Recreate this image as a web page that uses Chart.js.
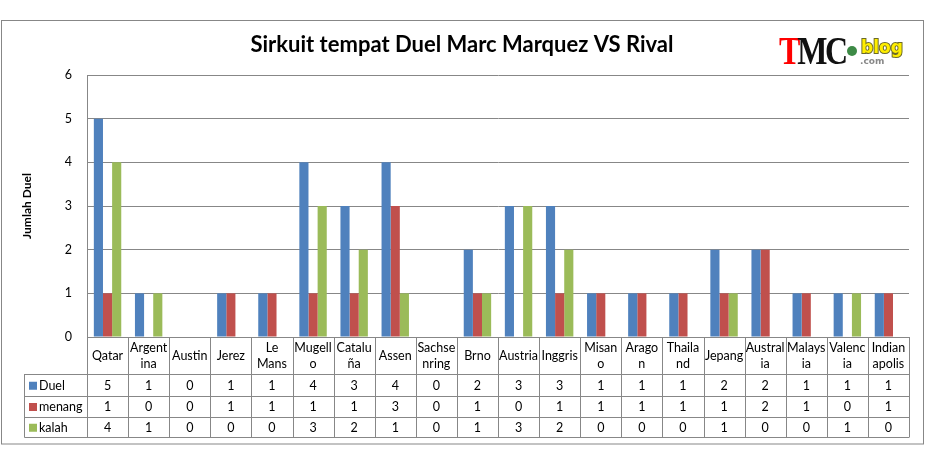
<!DOCTYPE html>
<html>
<head>
<meta charset="utf-8">
<script src="https://cdn.jsdelivr.net/npm/chart.js@4/dist/chart.umd.min.js"></script>
<style>
  body { margin: 0; background: #fff; }
  #wrap { width: 926px; height: 465px; }
</style>
</head>
<body>
<div id="wrap"><canvas id="duelChart" width="926" height="465"></canvas></div>
<script>
// wrapped the same way as the data table in the original
const circuits = [['Qatar'], ['Argent', 'ina'], ['Austin'], ['Jerez'], ['Le', 'Mans'],
    ['Mugell', 'o'], ['Catalu', 'ña'], ['Assen'], ['Sachse', 'nring'], ['Brno'],
    ['Austria'], ['Inggris'], ['Misan', 'o'], ['Arago', 'n'], ['Thaila', 'nd'],
    ['Jepang'], ['Austral', 'ia'], ['Malays', 'ia'], ['Valenc', 'ia'], ['Indian', 'apolis']];
const duel   = [5, 1, 0, 1, 1, 4, 3, 4, 0, 2, 3, 3, 1, 1, 1, 2, 2, 1, 1, 1];
const menang = [1, 0, 0, 1, 1, 1, 1, 3, 0, 1, 0, 1, 1, 1, 1, 1, 2, 1, 0, 1];
const kalah  = [4, 1, 0, 0, 0, 3, 2, 1, 0, 1, 3, 2, 0, 0, 0, 1, 0, 0, 1, 0];
const yTicks = [0, 1, 2, 3, 4, 5, 6];
const chartTitle = 'Sirkuit tempat Duel Marc Marquez VS Rival';

const lineCol = '#878787';
const font = 'Lato, "Open Sans", sans-serif';

// draws the excel style data table under the plot + frame + title + logo
const tablePlugin = {
    id: 'dataTable',
    beforeDraw(chart) {
        const ctx = chart.ctx;
        ctx.save();
        ctx.strokeStyle = lineCol;
        ctx.lineWidth = 1;
        ctx.strokeRect(1.5, 20.5, 922, 423.5);
        ctx.restore();
    },
    afterDraw(chart) {
        const ctx = chart.ctx;
        const a = chart.chartArea;
        const x = chart.scales.x;
        const rows = [a.bottom, a.bottom + 37, a.bottom + 58.5, a.bottom + 79.5, a.bottom + 100];
        const left = 24.5;
        ctx.save();

        ctx.fillStyle = '#000';
        ctx.font = 'bold 22px ' + font;
        ctx.textAlign = 'center';
        ctx.textBaseline = 'middle';
        ctx.fillText(chartTitle, 462, 45);

        ctx.strokeStyle = lineCol;
        ctx.lineWidth = 1;
        ctx.beginPath();
        for (let i = 0; i <= circuits.length; i++) {
            const px = Math.round(x.getPixelForValue(i - 0.5)) + 0.5;
            ctx.moveTo(px, rows[0]);
            ctx.lineTo(px, rows[4]);
        }
        for (let r = 1; r < rows.length; r++) {
            const py = Math.round(rows[r]) + 0.5;
            ctx.moveTo(left, py);
            ctx.lineTo(Math.round(a.right) + 0.5, py);
        }
        ctx.moveTo(left, rows[1]);
        ctx.lineTo(left, rows[4] + 0.5);
        ctx.stroke();

        ctx.font = '12.5px ' + font;
        const series = [duel, menang, kalah];
        circuits.forEach((lab, i) => {
            const cx = x.getPixelForValue(i);
            const mid = (rows[0] + rows[1]) / 2;
            if (lab.length === 1) {
                ctx.fillText(lab[0], cx, mid);
            } else {
                ctx.fillText(lab[0], cx, mid - 7.5);
                ctx.fillText(lab[1], cx, mid + 8);
            }
            series.forEach((s, k) => {
                ctx.fillText(String(s[i]), cx, (rows[k + 1] + rows[k + 2]) / 2 + 1);
            });
        });
        // legend keys in first column
        ctx.textAlign = 'left';
        chart.data.datasets.forEach((ds, k) => {
            const cy = (rows[k + 1] + rows[k + 2]) / 2 + 1;
            ctx.fillStyle = ds.backgroundColor;
            ctx.fillRect(29, cy - 4, 8, 8);
            ctx.fillStyle = '#000';
            ctx.fillText(ds.label, 39, cy);
        });

        // TMC blog logo
        ctx.save();
        ctx.translate(779, 64);
        ctx.scale(0.8, 1);
        ctx.font = 'bold 40px "Liberation Serif", "DejaVu Serif", serif';
        ctx.textBaseline = 'alphabetic';
        ctx.fillStyle = '#f00';
        ctx.fillText('T', 0, 0);
        const tw = ctx.measureText('T').width;
        ctx.fillStyle = '#111';
        ctx.fillText('M', tw - 4, 0);
        const mw = ctx.measureText('M').width;
        ctx.fillText('C', tw + mw - 7, 0);
        ctx.restore();
        ctx.beginPath();
        ctx.fillStyle = '#ffffff';
        ctx.arc(852, 51, 7, 0, Math.PI * 2);
        ctx.fill();
        ctx.beginPath();
        ctx.fillStyle = '#3d8a46';
        ctx.arc(852, 51, 5, 0, Math.PI * 2);
        ctx.fill();
        ctx.font = 'bold 17px "DejaVu Sans", sans-serif';
        ctx.textBaseline = 'alphabetic';
        ctx.lineWidth = 2;
        ctx.strokeStyle = '#6b6a2a';
        ctx.strokeText('blog', 861, 53);
        ctx.fillStyle = '#ffee00';
        ctx.fillText('blog', 861, 53);
        ctx.font = 'bold 9px "DejaVu Sans", sans-serif';
        ctx.fillStyle = '#888';
        ctx.fillText('.com', 860, 64);
        ctx.restore();
    }
};

new Chart(document.getElementById('duelChart').getContext('2d'), {
    type: 'bar',
    data: {
        labels: circuits,
        datasets: [
            { label: 'Duel', data: duel, backgroundColor: '#4f81bd' },
            { label: 'menang', data: menang, backgroundColor: '#c0504d' },
            { label: 'kalah', data: kalah, backgroundColor: '#9bbb59' }
        ]
    },
    options: {
        responsive: false,
        animation: false,
        categoryPercentage: 0.667,
        barPercentage: 1,
        layout: { padding: { top: 75, right: 17, bottom: 28, left: 0 } },
        plugins: {
            legend: { display: false },
            tooltip: { enabled: false },
            title: { display: false }
        },
        scales: {
            x: {
                grid: { display: false },
                border: { display: false },
                ticks: { display: false },
                afterFit(scale) { scale.height = 100; }
            },
            y: {
                min: yTicks[0],
                max: yTicks[yTicks.length - 1],
                afterBuildTicks(scale) { scale.ticks = yTicks.map(v => ({ value: v })); },
                ticks: { color: '#000', padding: 15, font: { family: font, size: 12.5 } },
                grid: { color: lineCol, drawTicks: false },
                border: { color: lineCol },
                title: {
                    display: true,
                    text: 'Jumlah Duel',
                    color: '#000',
                    font: { family: font, size: 12, weight: 'bold' },
                    padding: { top: 20 }
                },
                afterFit(scale) { scale.width = 87; }
            }
        }
    },
    plugins: [tablePlugin]
});
</script>
</body>
</html>
